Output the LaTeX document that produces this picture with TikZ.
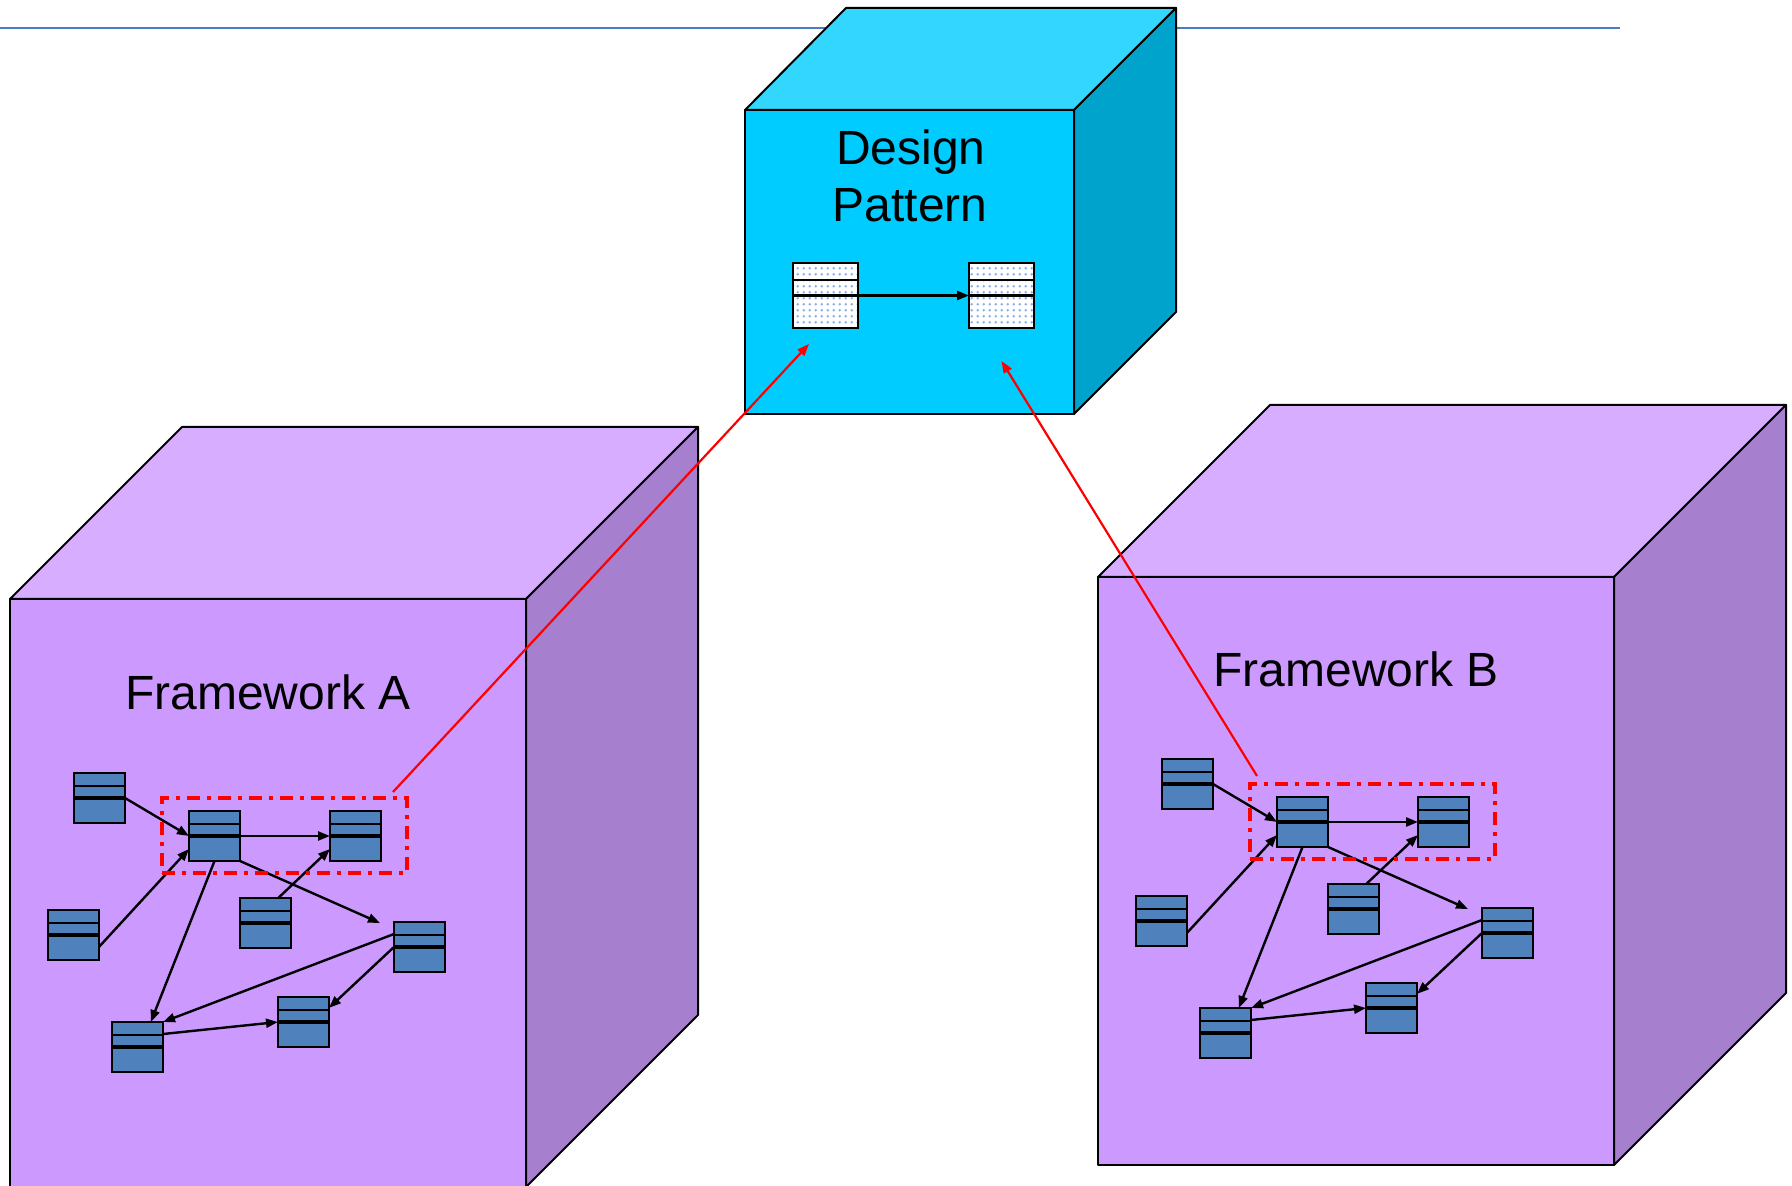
\documentclass[tikz,border=0pt]{standalone}
\usepackage{fontspec}
\setmainfont{Liberation Sans}
\usetikzlibrary{arrows.meta,calc,patterns}

\definecolor{fwtop}{HTML}{D6ADFF}
\definecolor{fwfront}{HTML}{CC99FF}
\definecolor{fwside}{HTML}{A680CF}
\definecolor{dptop}{HTML}{33D6FF}
\definecolor{dpfront}{HTML}{00CCFF}
\definecolor{dpside}{HTML}{00A3CC}
\definecolor{clsfill}{HTML}{4F81BD}
\definecolor{topline}{HTML}{4A7CC4}
\definecolor{dotcol}{HTML}{8FAEE0}

\pgfdeclarepatternformonly{softdots}{\pgfqpoint{-1pt}{-1pt}}{\pgfqpoint{2pt}{2pt}}{\pgfqpoint{3pt}{3pt}}{%
  \pgfpathcircle{\pgfqpoint{0pt}{0pt}}{0.75pt}\pgfusepath{fill}}

\newcommand\classnet{%
  \node[cls] (c1) at (74,773) {};
  \node[cls] (c2) at (189,811) {};
  \node[cls] (c3) at (330,811) {};
  \node[cls] (c4) at (48,910) {};
  \node[cls] (c5) at (240,898) {};
  \node[cls] (c6) at (394,922) {};
  \node[cls] (c7) at (278,997) {};
  \node[cls] (c8) at (112,1022) {};
  \draw[arr] (c1.east) -- (c2.west);
  \draw[arr] (c2.east) -- (c3.west);
  \draw[arr] (c4.-25) -- (c2.207);
  \draw[arr] (c5.63) -- (c3.207);
  \draw[arr] (c2.south east) -- ($(c6.north west)+(-14,1)$);
  \draw[arr] (c2.south) -- (c8.62);
  \draw[arr] (c6.153) -- (c8.north east);
  \draw[arr] (c6.west) -- (c7.29);
  \draw[arr] (c8.27) -- (c7.west);
  \node[dashbox] (sel) at (162,798) {};
}

\begin{document}
\begin{tikzpicture}[x=0.5pt,y=-0.5pt,
  face/.style={draw=black,line width=1pt,line join=round},
  cls/.style={draw=black, line width=1.2pt, fill=clsfill, rectangle,
    minimum width=25.5pt, minimum height=25pt, inner sep=0pt, outer sep=0pt,
    anchor=north west,
    path picture={
      \draw[line width=1pt] ($(path picture bounding box.north west)!0.25!(path picture bounding box.south west)$) -- ($(path picture bounding box.north east)!0.25!(path picture bounding box.south east)$);
      \draw[line width=1.6pt] (path picture bounding box.west) -- (path picture bounding box.east);}},
  dpcls/.style={draw=black, line width=1.3pt, preaction={fill=white},
    pattern=softdots, pattern color=dotcol, rectangle,
    minimum width=32.5pt, minimum height=32.5pt, inner sep=0pt, outer sep=0pt,
    anchor=north west,
    path picture={
      \draw[line width=1.1pt] ($(path picture bounding box.north west)!0.26!(path picture bounding box.south west)$) -- ($(path picture bounding box.north east)!0.26!(path picture bounding box.south east)$);
      \draw[line width=1.3pt] (path picture bounding box.west) -- (path picture bounding box.east);}},
  arr/.style={-{Triangle[length=6pt,width=4.5pt]}, line width=1.2pt},
  redarr/.style={-{Triangle[length=6pt,width=4.5pt]}, draw=red, line width=1.1pt},
  dashbox/.style={draw=red, line width=2pt, rectangle, anchor=north west,
    minimum width=122.5pt, minimum height=37.5pt, inner sep=0pt, outer sep=0pt,
    dash pattern=on 6.5pt off 3.5pt on 2pt off 3.5pt},
  lbl/.style={font=\fontsize{24}{28.5}\selectfont, inner sep=0pt, anchor=base}
]
\useasboundingbox (0,0) rectangle (1792,1186);
\clip (0,0) rectangle (1792,1186);
\fill[white] (0,0) rectangle (1792,1186);

% top rule
\draw[topline, line width=1.2pt] (0,28) -- (1620,28);

% Design pattern cube
\filldraw[face, fill=dpfront] (745,110) rectangle (1074,414);
\filldraw[face, fill=dptop] (745,110) -- (846,8) -- (1176,8) -- (1074,110) -- cycle;
\filldraw[face, fill=dpside] (1074,110) -- (1176,8) -- (1176,312) -- (1074,414) -- cycle;
\node[lbl] (dpt1) at (911,165) {Design};
\node[lbl] (dpt2) at (910,222) {Pattern};
\node[dpcls] (dpl) at (793,263) {};
\node[dpcls] (dpr) at (969,263) {};
\draw[arr] (dpl.east) -- (dpr.west);

% Framework A cube
\filldraw[face, fill=fwfront] (10,599) rectangle (526,1187);
\filldraw[face, fill=fwtop] (10,599) -- (182,427) -- (698,427) -- (526,599) -- cycle;
\filldraw[face, fill=fwside] (526,599) -- (698,427) -- (698,1015) -- (526,1187) -- cycle;
\node[lbl] (fwa) at (268,709) {Framework A};
\begin{scope}[name prefix=a-]
  \classnet
\end{scope}

% Framework B cube
\filldraw[face, fill=fwfront] (1098,577) rectangle (1614,1165);
\filldraw[face, fill=fwtop] (1098,577) -- (1270,405) -- (1786,405) -- (1614,577) -- cycle;
\filldraw[face, fill=fwside] (1614,577) -- (1786,405) -- (1786,993) -- (1614,1165) -- cycle;
\node[lbl] (fwb) at (1356,686) {Framework B};
\begin{scope}[shift={(1088,-14)}, name prefix=b-]
  \classnet
\end{scope}

% red mapping lines
\draw[redarr] ($(a-sel.north east)+(-14,-6)$) -- ($(dpl.south west)+(16,16)$);
\draw[redarr] ($(b-sel.north west)+(7,-8)$) -- ($(dpr.south)+(0,33)$);
\end{tikzpicture}
\end{document}
